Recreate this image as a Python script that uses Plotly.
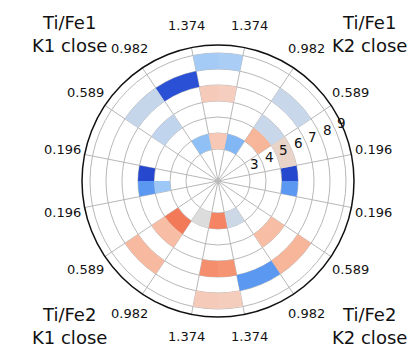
import math
import plotly.graph_objects as go

# Radial rings (each cell spans [ring, ring + 1]) and local angle bins (deg)
RINGS = [3, 4, 5, 6, 7, 8]
LOCAL_BIN_CENTERS = [0.0, 22.5, 45.0, 67.5, 90.0]
LOCAL_BIN_EDGES = [0.0, 11.25, 33.75, 56.25, 78.75, 90.0]

# Cell values per quadrant: rows follow RINGS, columns follow LOCAL_BIN_CENTERS
TI_FE1_K2 = [
    [None, None, None, -0.55, 0.30],
    [None, None, 0.45, None, None],
    [-0.95, 0.12, -0.20, None, None],
    [None, None, None, None, 0.24],
    [None, None, -0.20, None, None],
    [None, None, None, None, -0.40],
]
TI_FE1_K1 = [
    [None, None, None, -0.50, 0.30],
    [None, None, None, None, None],
    [-0.95, None, -0.25, None, None],
    [None, None, None, None, 0.28],
    [None, None, -0.22, -0.90, None],
    [None, None, None, None, -0.42],
]
TI_FE2_K1 = [
    [None, None, None, 0.00, 0.70],
    [-0.45, None, 0.75, None, None],
    [-0.70, None, 0.40, None, None],
    [None, None, None, None, 0.65],
    [None, None, 0.42, None, None],
    [None, None, None, None, 0.28],
]
TI_FE2_K2 = [
    [None, None, None, -0.15, 0.70],
    [None, None, None, None, None],
    [-0.70, None, 0.40, None, None],
    [None, None, None, None, 0.62],
    [None, None, 0.45, -0.70, None],
    [None, None, None, None, 0.25],
]

# Angular tick labels (local angle in radians) and radial tick labels
THETA_TICK_TEXT = ["0.196", "0.589", "0.982", "1.374"]
R_TICKS = [3, 4, 5, 6, 7, 8, 9]

COLORSCALE = [
    [0.00, "#1f3fc8"], [0.05, "#2a50d6"], [0.15, "#5a98f2"],
    [0.25, "#8fc1f7"], [0.30, "#a9cdf5"], [0.40, "#c8d7ea"],
    [0.50, "#dcdcdc"], [0.56, "#e8d4c9"], [0.62, "#f5cebf"],
    [0.70, "#f7bea5"], [0.80, "#f59876"], [0.90, "#f2704f"],
    [1.00, "#e84a30"],
]

W, H = 408, 350
DOMAIN_X = [82 / W, 354 / W]
DOMAIN_Y = [33 / H, 305 / H]
R_MIN, R_MAX = 1, 9.5
TICK_LABEL_PAD = 23       # px between the outer circle and angular label centres
R_LABEL_ANGLE = 25.0      # direction of the radial tick labels
R_LABEL_SHIFT = 0.55      # radial tick labels sit just outside their circle

# quadrant values and the mapping from local angle to global angle
QUADRANTS = [
    (TI_FE1_K2, lambda a: a),
    (TI_FE1_K1, lambda a: 180.0 - a),
    (TI_FE2_K1, lambda a: 180.0 + a),
    (TI_FE2_K2, lambda a: 360.0 - a),
]

theta, width, base, color = [], [], [], []
for values, to_global in QUADRANTS:
    for i, ring in enumerate(RINGS):
        for j in range(len(LOCAL_BIN_CENTERS)):
            v = values[i][j]
            if v is None:
                continue
            lo, hi = LOCAL_BIN_EDGES[j], LOCAL_BIN_EDGES[j + 1]
            a, b = to_global(lo), to_global(hi)
            theta.append((a + b) / 2.0)
            width.append(abs(b - a))
            base.append(ring)
            color.append(v)

fig = go.Figure(go.Barpolar(
    theta=theta,
    width=width,
    base=base,
    r=[1] * len(theta),
    marker=dict(color=color, colorscale=COLORSCALE, cmin=-1, cmax=1,
                line=dict(width=0)),
    hoverinfo="skip",
    showlegend=False,
))

# angular grid lines sit on the local bin edges of every quadrant
tick_vals = [11.25 + 22.5 * k for k in range(16)]
tick_text = (THETA_TICK_TEXT + THETA_TICK_TEXT[::-1]) * 2

fig.update_layout(
    width=W, height=H,
    margin=dict(l=0, r=0, t=0, b=0),
    paper_bgcolor="white",
    font=dict(family="DejaVu Sans", color="#222222"),
    polar=dict(
        domain=dict(x=DOMAIN_X, y=DOMAIN_Y),
        bgcolor="white",
        barmode="overlay",
        radialaxis=dict(
            range=[R_MIN, R_MAX], tickvals=R_TICKS,
            angle=22.5, showline=False, ticks="", showticklabels=False,
            showgrid=True, gridcolor="#b8b8b8", gridwidth=1,
        ),
        angularaxis=dict(
            rotation=0, direction="counterclockwise",
            tickmode="array", tickvals=tick_vals,
            showgrid=True, gridcolor="#b8b8b8", gridwidth=1,
            showline=True, linecolor="#111111", linewidth=1.5,
            ticks="", showticklabels=False,
        ),
    ),
)

# polar geometry in paper coordinates, used to place the tick labels
cx = (DOMAIN_X[0] + DOMAIN_X[1]) / 2
cy = (DOMAIN_Y[0] + DOMAIN_Y[1]) / 2
radius_px = (DOMAIN_X[1] - DOMAIN_X[0]) * W / 2
px_per_unit = radius_px / (R_MAX - R_MIN)


def polar_px_to_paper(dist_px, theta_deg):
    t = math.radians(theta_deg)
    return cx + dist_px * math.cos(t) / W, cy + dist_px * math.sin(t) / H


for tv, tt in zip(tick_vals, tick_text):
    x, y = polar_px_to_paper(radius_px + TICK_LABEL_PAD, tv)
    fig.add_annotation(text=tt, x=x, y=y, xref="paper", yref="paper",
                       showarrow=False, xanchor="center", yanchor="middle",
                       font=dict(size=13, color="#111111"))

for rt in R_TICKS:
    x, y = polar_px_to_paper((rt + R_LABEL_SHIFT - R_MIN) * px_per_unit, R_LABEL_ANGLE)
    fig.add_annotation(text=str(rt), x=x, y=y, xref="paper", yref="paper",
                       showarrow=False, xanchor="center", yanchor="middle",
                       font=dict(size=13.5, color="#111111"))

# quadrant titles: (text, centre x px, paper y, vertical anchor)
titles = [
    ("Ti/Fe1<br>K1 close", 69, 1 - 34 / H, "middle"),
    ("Ti/Fe1<br>K2 close", 369, 1 - 34 / H, "middle"),
    ("Ti/Fe2<br>K1 close", 69, 0.0, "bottom"),
    ("Ti/Fe2<br>K2 close", 369, 0.0, "bottom"),
]
for text, x, y, anchor in titles:
    fig.add_annotation(text=text, x=x / W, y=y, xref="paper", yref="paper",
                       showarrow=False, font=dict(size=18, color="#111111"),
                       xanchor="center", yanchor=anchor)

fig.write_html("out.html")
